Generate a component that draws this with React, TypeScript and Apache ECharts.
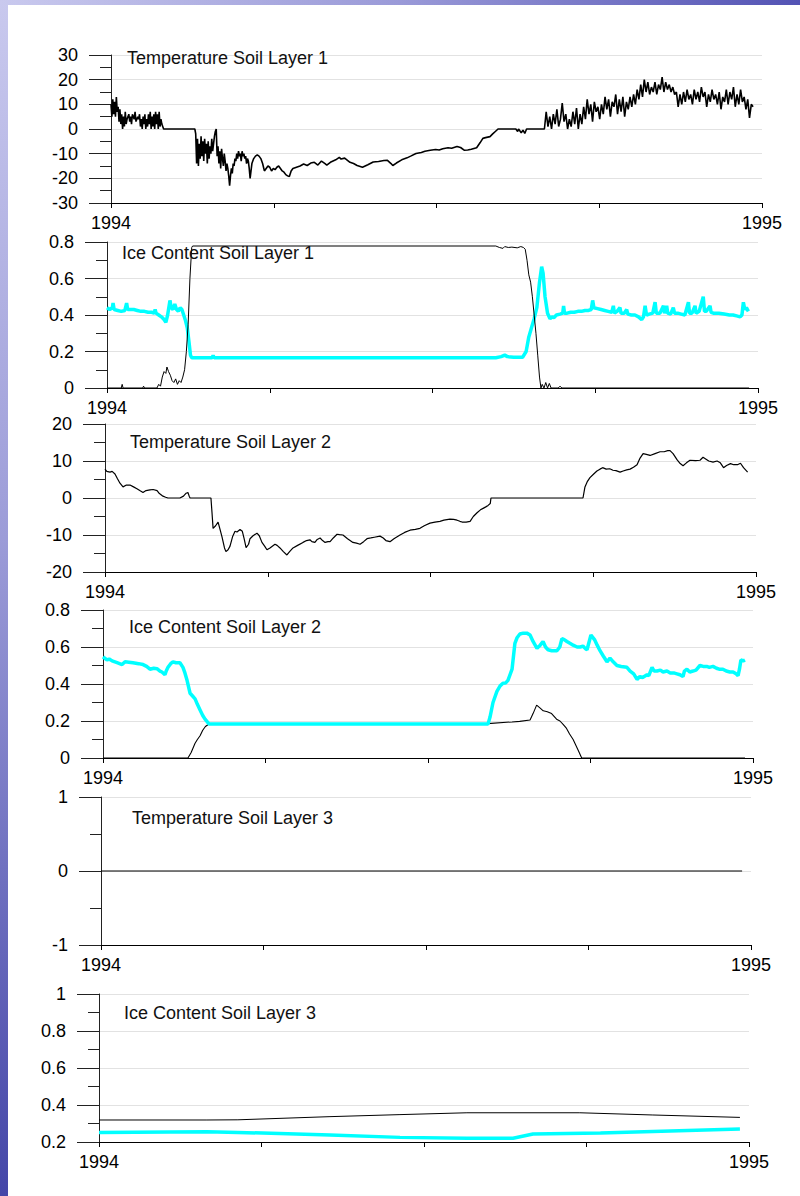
import React, { useEffect, useRef } from "react";
import * as echarts from "echarts";

// x axis: days since the start of 1994 (0 .. 365)
const yearLabels = ["1994", "1995"];
const yearLength = 365;

const panelTitles = [
  "Temperature Soil Layer 1",
  "Ice Content Soil Layer 1",
  "Temperature Soil Layer 2",
  "Ice Content Soil Layer 2",
  "Temperature Soil Layer 3",
  "Ice Content Soil Layer 3",
];

const yMins = [-30, 0, -20, 0, -1, 0.2];
const yMaxs = [30, 0.8, 20, 0.8, 1, 1];
const yIntervals = [10, 0.2, 10, 0.2, 1, 0.2];

// Temperature soil layer 1 [day, degC]
const temp1: [number, number][] = [
  [0, 10], [0.5, 5], [1, 12], [1.5, 6], [2, 11], [2.5, 5], [3, 13], [3.5, 7], [4, 9], [4.5, 3], [5, 8], [5.5, 2],
  [6, 6], [6.5, 0], [7, 5], [7.5, 1], [8, 7], [8.5, 2], [9, 4], [10, 6], [10.5, 3], [11, 5], [11.5, 2], [12, 6],
  [13, 4], [13.5, 7], [14, 3], [15, 5], [15.5, 4], [16, 6], [16.5, 1], [17, 4], [17.5, 0], [18, 5], [18.5, 2],
  [19, 6], [19.5, 0], [20, 4], [20.5, 1], [21, 6], [21.5, 2], [22, 7], [22.5, 0], [23, 5], [23.5, 1], [24, 6],
  [24.5, 0], [25, 7], [25.5, 2], [26, 6], [26.5, 0], [27, 7], [27.5, 1], [28, 4], [28.5, 2], [29, 1], [29.5, 0],
  [47, 0], [47.5, -2], [48, -14], [48.5, -4], [49, -15], [49.5, -6], [50, -12], [50.5, -3], [51, -11], [51.5, -5],
  [52, -13], [52.5, -4], [53, -10], [53.5, -6], [54, -14], [54.5, -5], [55, -12], [55.5, -7], [56, -10], [56.5, -4],
  [57, -9], [57.5, -6], [58, -3], [58.5, -1], [59, 0], [59.5, -11], [60, -7], [60.5, -14], [61, -9], [61.5, -16],
  [62, -8], [62.5, -12], [63, -15], [63.5, -10], [64, -13], [64.5, -17], [65, -14], [65.5, -16], [66, -19],
  [66.5, -23], [67, -19], [67.5, -16], [68, -18], [68.5, -14], [69, -15], [69.5, -12], [70, -13], [70.5, -10],
  [71, -12], [71.5, -9], [72, -11], [72.5, -10], [73, -13], [73.5, -9], [74, -11], [74.5, -10], [75, -12],
  [75.5, -11], [76, -14], [76.5, -12], [77, -13], [77.5, -16], [78, -20], [78.5, -17], [79, -14], [79.5, -13],
  [80, -12], [81, -11], [82, -10.5], [83, -11], [84, -12], [85, -14], [86, -17], [87, -16], [88, -15], [89, -15.5],
  [90, -17], [91, -16], [92, -16.5], [93, -15.5], [94, -15], [95, -16], [96, -17], [97, -17.5], [98, -18.5],
  [99, -19], [100, -19.3], [101, -17], [102, -16], [104, -15.5], [106, -15], [108, -14.2], [110, -14.8],
  [112, -13.8], [114, -13.5], [116, -14.6], [118, -13], [120, -14], [121, -14.6], [123, -13.5], [126, -12.5],
  [128, -11.5], [129, -12.2], [131, -11.8], [134, -13.5], [136, -14], [138, -14.8], [141, -15.5], [144, -14.5],
  [147, -13.4], [150, -13.2], [153, -12.8], [155, -12.7], [157, -14], [158, -14.8], [160, -13.8], [163, -12.5],
  [166, -11.7], [168, -11], [171, -9.9], [174, -9.5], [176, -9], [179, -8.6], [182, -8.3], [184, -8.5], [186, -8],
  [189, -7.6], [191, -7.8], [194, -7.1], [196, -7.5], [198, -8.6], [200, -8.5], [202, -8.2], [205, -7.6],
  [207, -5.5], [208.5, -3.8], [210, -3.5], [212.5, -3.1], [214, -2], [215.5, -1], [217, 0], [227, 0], [228, -1],
  [228.5, 0], [230, -1.5], [231, -0.5], [232, -1.8], [233, 0], [243, 0], [244, 7], [245, 1], [246, 5], [247, 0],
  [248, 6], [249, 2], [250, 8], [251, 1], [252, 4], [253, 10.5], [254, 3], [255, 6], [256, 0], [257, 4], [258, 1],
  [259, 7], [260, 2], [261, 8.5], [262, 0], [263, 6], [264, 2], [265, 9], [266, 4], [267, 12], [268, 6], [269, 10],
  [270, 3], [271, 11], [272, 7], [273, 9], [274, 4], [275, 10], [276, 6], [277, 13], [278, 8], [279, 12], [280, 5],
  [281, 11], [282, 9], [283, 14], [284, 6], [285, 12], [286, 7], [287, 13], [288, 5], [289, 11], [290, 8],
  [291, 13], [292, 9], [293, 14], [294, 10], [295, 16], [296, 12], [297, 18], [298, 13], [299, 20], [300, 15],
  [301, 19], [302, 14], [303, 17], [304, 15], [305, 19], [306, 14], [307, 18], [308, 16], [309, 21], [310, 15],
  [311, 19], [312, 16], [313, 18], [314, 15], [315, 17], [316, 14], [317, 15], [318, 9], [319, 14], [320, 10],
  [321, 15], [322, 11], [323, 16], [324, 12], [325, 14], [326, 10], [327, 16], [328, 12], [329, 15], [330, 11],
  [331, 17], [332, 13], [333, 15], [334, 9], [335, 14], [336, 11], [337, 16], [338, 12], [339, 14], [340, 10],
  [341, 15], [342, 8], [343, 13], [344, 11], [345, 16], [346, 10], [347, 15], [348, 12], [349, 17], [350, 9],
  [351, 14], [352, 10], [353, 16], [354, 11], [355, 13], [356, 8], [357, 12], [358, 4.5], [359, 10], [360, 9],
];

// Ice content soil layer 1 – black curve
const ice1Black: [number, number][] = [
  [0, 0], [8, 0], [8.5, 0.02], [9, 0], [20, 0], [20.5, 0.01], [21, 0], [28, 0], [29, 0.02], [30, 0.01], [31, 0.06],
  [32, 0.09], [33, 0.08], [33.6, 0.115], [34.5, 0.09], [35.5, 0.07], [36.5, 0.04], [37.5, 0.03], [38.5, 0.05],
  [39.5, 0.02], [40.5, 0.04], [41.5, 0.03], [42.5, 0.06], [43.5, 0.1], [44.5, 0.2], [45.5, 0.35], [46.5, 0.6],
  [47.5, 0.77], [48, 0.778], [218, 0.778], [220, 0.77], [222, 0.765], [223, 0.775], [225, 0.77], [227, 0.772],
  [230, 0.768], [232, 0.775], [233.5, 0.77], [234.5, 0.76], [235.5, 0.7], [236.5, 0.62], [237.5, 0.58],
  [238.5, 0.5], [239.5, 0.4], [240.5, 0.3], [241.5, 0.18], [242.5, 0.06], [243.3, 0], [244, 0.02], [245, 0],
  [246, 0.03], [247, 0], [248, 0.025], [249, 0], [253, 0], [254, 0.01], [255, 0], [360, 0],
];

// Ice content soil layer 1 – cyan curve
const ice1Cyan: [number, number][] = [
  [0, 0.44], [1.5, 0.43], [3, 0.44], [3.4, 0.465], [4, 0.43], [6, 0.425], [8, 0.42], [10, 0.425], [11, 0.465],
  [11.6, 0.43], [13, 0.43], [15, 0.43], [17, 0.425], [19, 0.42], [21, 0.42], [23, 0.415], [25, 0.415],
  [26.5, 0.41], [27, 0.43], [27.5, 0.41], [29, 0.4], [30.5, 0.39], [32, 0.375], [33, 0.36], [34, 0.4],
  [35.3, 0.48], [36, 0.44], [37, 0.43], [38, 0.46], [39, 0.43], [40, 0.42], [41, 0.44], [42, 0.43], [43, 0.4],
  [44, 0.37], [45, 0.33], [46, 0.25], [46.8, 0.18], [47.5, 0.166], [59, 0.166], [59.5, 0.178], [60, 0.166],
  [218, 0.166], [221, 0.172], [223, 0.18], [224.5, 0.172], [228, 0.168], [233, 0.168], [235, 0.2], [236.5, 0.28],
  [238, 0.33], [239.5, 0.38], [241, 0.44], [242.5, 0.58], [243.7, 0.665], [244.5, 0.63], [245.6, 0.5],
  [247, 0.41], [248.4, 0.38], [249.5, 0.39], [250.5, 0.385], [252, 0.4], [254, 0.405], [255.5, 0.41],
  [256, 0.45], [256.5, 0.41], [258, 0.41], [260, 0.415], [262, 0.415], [264, 0.42], [266, 0.42], [268, 0.425],
  [270, 0.425], [271.5, 0.43], [272.3, 0.48], [273, 0.44], [275, 0.435], [277, 0.43], [279, 0.425], [281, 0.42],
  [283, 0.415], [283.9, 0.45], [284.5, 0.41], [286, 0.42], [287.6, 0.44], [288.2, 0.41], [290, 0.41],
  [291.4, 0.43], [292, 0.405], [294, 0.4], [296, 0.4], [298, 0.39], [299.8, 0.375], [300.8, 0.39], [301.7, 0.45],
  [302.5, 0.4], [304, 0.405], [306, 0.41], [307.3, 0.47], [308, 0.41], [310, 0.41], [312, 0.45], [312.6, 0.41],
  [313.8, 0.45], [314.4, 0.41], [316, 0.405], [317.5, 0.44], [318.2, 0.41], [320, 0.41], [322, 0.405],
  [324, 0.4], [326, 0.47], [326.6, 0.41], [328, 0.41], [329.7, 0.45], [330.3, 0.41], [332, 0.42], [334.3, 0.5],
  [335, 0.42], [336, 0.42], [338.1, 0.45], [338.7, 0.415], [340, 0.41], [343, 0.41], [346, 0.405], [349, 0.4],
  [351, 0.4], [353, 0.395], [355, 0.39], [356, 0.4], [356.8, 0.47], [357.6, 0.43], [358.5, 0.44], [359.6, 0.42],
];

// Temperature soil layer 2 [day, degC]
const temp2: [number, number][] = [
  [0, 7.8], [1, 7.2], [2.8, 7], [4, 7.2], [5.6, 6.5], [7, 5.2], [8.4, 4], [10.1, 3], [12, 3.5], [14, 3.5],
  [16, 3], [17.9, 2.5], [19.5, 2], [21.3, 1.5], [23, 2], [25.2, 2.2], [27, 2.3], [29.2, 2], [30.5, 1.2],
  [32.5, 0.5], [34, 0.2], [35.3, 0], [42, 0], [44, 0.5], [45.5, 1.3], [46.5, 1.5], [47.2, 0.5], [47.7, 0],
  [59.4, 0], [60, -4], [60.6, -8.2], [62, -7.5], [63.4, -6.5], [64.5, -8.5], [65.6, -10.5], [67, -13.5],
  [67.8, -14.5], [69, -14], [70.1, -13], [71.5, -10.5], [72.9, -9], [74, -9.2], [75.7, -8.5], [77, -9],
  [78, -11], [79.1, -13.4], [80.5, -12.5], [81.3, -11], [83, -10.2], [85.2, -9.5], [86.5, -10.2], [88, -12],
  [89.5, -13], [90.8, -14], [92.5, -13.5], [95.3, -12.5], [96.5, -12.8], [98.1, -13.5], [100, -14.5],
  [102, -15.4], [103.5, -14.5], [105.4, -13.5], [108, -12.8], [111, -12], [113, -11.5], [114.9, -11.3],
  [116, -11.8], [117.7, -12], [119, -11.2], [120.6, -10.8], [122, -11.5], [123.4, -12], [125, -11.8],
  [126.2, -11.8], [128, -10.8], [130.1, -9.8], [131.5, -9.9], [133.4, -10], [136, -11], [139, -12], [141, -12.2],
  [143, -12.5], [145, -11.8], [146.9, -11], [149, -10.8], [151, -10.6], [154.2, -10.3], [156, -10.8],
  [157.5, -11.5], [159.8, -11.8], [162, -11], [165.4, -10], [168, -9.3], [171, -8.7], [174, -8.5],
  [176.6, -8.2], [179, -7.5], [182.2, -6.8], [185, -6.5], [187.8, -6.3], [190, -6], [193.4, -5.7],
  [195.5, -5.8], [197.4, -6], [199, -6.3], [200.2, -6.5], [202.5, -6.5], [204.7, -6.3], [206.5, -5],
  [208.6, -4], [210.5, -3.2], [212, -2.8], [213.5, -2.4], [214.8, -2], [216, -1.5], [216.4, 0], [268, 0],
  [269.1, 3], [270.5, 4.5], [271.9, 5.5], [274, 6.5], [275.8, 7.3], [277.5, 7.8], [279, 8.2], [281, 7.8],
  [283, 7.9], [284.8, 7.5], [286.5, 7.4], [288.8, 7], [290.5, 7.3], [292.5, 7.6], [294.4, 7.8], [296.3, 8.3],
  [298.3, 9], [300, 10.8], [301.7, 12], [303.5, 11.8], [305.6, 11.5], [308.4, 12], [311.2, 12.5], [313.5, 12.5],
  [315.5, 12.8], [316.8, 12.8], [318.5, 12], [320.8, 10.3], [322.5, 9.3], [324.1, 8.7], [326, 9.5], [328, 10.2],
  [331, 10.1], [333.6, 10.2], [335.3, 11], [337, 10.5], [338.5, 10], [340.9, 9.7], [343.2, 10], [345, 9.5],
  [346.8, 8.2], [348.5, 8.8], [350.7, 9.3], [352.5, 9], [354.6, 9], [356.3, 9.4], [358, 8.2], [360.3, 7],
];

// Ice content soil layer 2 – cyan curve
const ice2Cyan: [number, number][] = [
  [0, 0.547], [2.2, 0.53], [3.5, 0.535], [5.1, 0.525], [7.9, 0.515], [10.7, 0.505], [12.4, 0.52], [14.5, 0.518],
  [16.8, 0.515], [20, 0.51], [22.5, 0.505], [24.5, 0.495], [26.4, 0.48], [28.5, 0.485], [30.3, 0.483],
  [32, 0.47], [33.1, 0.465], [34.8, 0.45], [35.5, 0.47], [36.5, 0.49], [38, 0.51], [39.3, 0.52], [41, 0.515],
  [43.2, 0.515], [44.9, 0.49], [46, 0.46], [47.2, 0.42], [48.9, 0.35], [50.3, 0.335], [51.7, 0.32], [53, 0.29],
  [54.5, 0.26], [56, 0.23], [57.3, 0.21], [59.5, 0.184], [216.2, 0.184], [217.3, 0.22], [219, 0.3],
  [221.2, 0.36], [223, 0.39], [224.6, 0.404], [226, 0.405], [227.4, 0.42], [229.7, 0.48], [231.3, 0.62],
  [232.5, 0.65], [234.1, 0.67], [236, 0.675], [238, 0.675], [239.8, 0.665], [241.5, 0.63], [243.7, 0.593],
  [245.5, 0.61], [247.1, 0.63], [248.5, 0.6], [249.9, 0.585], [252, 0.58], [254.9, 0.58], [256.5, 0.6],
  [257.7, 0.645], [259, 0.64], [260.5, 0.63], [262.2, 0.62], [264, 0.61], [266.2, 0.6], [268, 0.6],
  [269.5, 0.605], [271, 0.59], [271.8, 0.585], [274, 0.665], [276, 0.64], [277.5, 0.61], [279.1, 0.58],
  [281, 0.55], [283, 0.52], [284.7, 0.54], [286.5, 0.52], [288.6, 0.5], [291, 0.495], [294.2, 0.49],
  [296, 0.47], [298, 0.455], [299.9, 0.425], [301.5, 0.44], [303, 0.435], [305.5, 0.45], [306.5, 0.445],
  [308.3, 0.49], [309.5, 0.47], [311.1, 0.47], [313, 0.475], [314.5, 0.465], [316.7, 0.47], [318.5, 0.46],
  [320.5, 0.46], [322.3, 0.455], [324, 0.45], [325.7, 0.44], [326.5, 0.47], [327.9, 0.48], [329.5, 0.465],
  [331.3, 0.47], [333, 0.475], [335.2, 0.5], [337, 0.495], [339, 0.495], [340.5, 0.49], [342.5, 0.495],
  [344.5, 0.485], [346, 0.48], [348.1, 0.48], [350, 0.47], [352, 0.465], [353.8, 0.465], [355.5, 0.455],
  [356.6, 0.445], [357.4, 0.48], [358.2, 0.53], [359.5, 0.525], [360.5, 0.53],
];

// Ice content soil layer 2 – black curve
const ice2Black: [number, number][] = [
  [0, 0], [47.7, 0], [49.5, 0.03], [51.7, 0.08], [53, 0.1], [54.5, 0.12], [56, 0.15], [57.5, 0.17],
  [59.5, 0.184], [216, 0.186], [229.7, 0.195], [234, 0.198], [239.8, 0.205], [241.5, 0.24], [243.5, 0.286],
  [245.5, 0.27], [247.2, 0.255], [249.5, 0.25], [251.9, 0.24], [254.7, 0.21], [256.6, 0.2], [258.5, 0.18],
  [260.3, 0.16], [262, 0.13], [264, 0.1], [266.9, 0.04], [268.8, 0], [360.5, 0],
];

// Temperature soil layer 3
const temp3: [number, number][] = [[0, 0], [360, 0]];

// Ice content soil layer 3
const ice3Black: [number, number][] = [
  [0, 0.319], [60.6, 0.319], [78, 0.32], [129.7, 0.337], [169, 0.348], [206.6, 0.358], [270, 0.358],
  [311, 0.346], [359.9, 0.333],
];
const ice3Cyan: [number, number][] = [
  [0, 0.252], [60.6, 0.256], [78, 0.252], [129.7, 0.238], [169, 0.225], [206.6, 0.22], [232.5, 0.22],
  [243.7, 0.243], [281.6, 0.248], [359.9, 0.27],
];

const FONT = "'Liberation Sans', Arial, Helvetica, sans-serif";
const CYAN = "#00ffff";

export default function App() {
  const ref = useRef<HTMLDivElement>(null);

  useEffect(() => {
    if (!ref.current) return;
    const chart = echarts.init(ref.current, null, { renderer: "svg" });

    const layout = [
      { left: 111, top: 55, width: 651, height: 148 },
      { left: 107, top: 242, width: 651, height: 146 },
      { left: 105, top: 424, width: 651, height: 148 },
      { left: 103, top: 610, width: 650, height: 148 },
      { left: 101, top: 797, width: 650, height: 148 },
      { left: 99, top: 994, width: 650, height: 148 },
    ];
    const titlePos = [
      [127, 58],
      [122, 253],
      [130, 442],
      [129, 627],
      [132, 818],
      [124, 1013],
    ];

    const grid = layout.map((l) => ({ ...l, containLabel: false }));

    const xAxis = layout.map((_, i) => ({
      type: "value",
      gridIndex: i,
      min: 0,
      max: yearLength,
      interval: yearLength / 4,
      axisLine: { show: true, onZero: false, lineStyle: { color: "#000", width: 1 } },
      axisTick: { show: true, length: 5, lineStyle: { color: "#000" } },
      splitLine: { show: false },
      axisLabel: {
        show: true,
        margin: 11,
        fontSize: 18,
        fontFamily: FONT,
        color: "#000",
        showMinLabel: true,
        showMaxLabel: true,
        formatter: (v: number) =>
          Math.abs(v) < 1e-6 ? yearLabels[0] : Math.abs(v - yearLength) < 1e-6 ? yearLabels[1] : "",
      },
    }));

    const yAxis = layout.map((_, i) => ({
      type: "value",
      gridIndex: i,
      min: yMins[i],
      max: yMaxs[i],
      interval: yIntervals[i],
      axisLine: { show: true, onZero: false, lineStyle: { color: "#222", width: 1 } },
      axisTick: { show: true, length: 22, lineStyle: { color: "#222" } },
      minorTick: { show: true, splitNumber: 2, length: 11, lineStyle: { color: "#222" } },
      splitLine: { show: true, lineStyle: { color: "#e2e2e2", width: 1 } },
      minorSplitLine: { show: false },
      axisLabel: { margin: 33, fontSize: 18, fontFamily: FONT, color: "#000" },
    }));

    const line = (idx: number, data: [number, number][], color: string, width: number) => ({
      type: "line",
      xAxisIndex: idx,
      yAxisIndex: idx,
      data,
      showSymbol: false,
      symbol: "none",
      silent: true,
      lineStyle: { color, width },
    });

    const series = [
      line(0, temp1, "#000", 1.6),
      line(1, ice1Cyan, CYAN, 3.5),
      line(1, ice1Black, "#000", 1),
      line(2, temp2, "#000", 1.2),
      line(3, ice2Black, "#000", 1.1),
      line(3, ice2Cyan, CYAN, 3.5),
      line(4, temp3, "#000", 1.1),
      line(5, ice3Black, "#000", 1),
      line(5, ice3Cyan, CYAN, 3.5),
    ];

    const graphic: any[] = [
      {
        type: "rect",
        shape: { x: 0, y: 0, width: 8, height: 1196 },
        style: {
          fill: {
            type: "linear",
            x: 0,
            y: 0,
            x2: 0,
            y2: 1,
            colorStops: [
              { offset: 0, color: "#c9c9ee" },
              { offset: 0.45, color: "#9c9cd8" },
              { offset: 1, color: "#4446a8" },
            ],
          },
        },
        silent: true,
      },
      {
        type: "rect",
        shape: { x: 0, y: 0, width: 800, height: 5 },
        style: {
          fill: {
            type: "linear",
            x: 0,
            y: 0,
            x2: 1,
            y2: 0,
            colorStops: [
              { offset: 0, color: "#c9c9ee" },
              { offset: 0.5, color: "#9a9ad8" },
              { offset: 1, color: "#5353b4" },
            ],
          },
        },
        silent: true,
      },
      ...panelTitles.map((t, i) => ({
        type: "text",
        x: titlePos[i][0],
        y: titlePos[i][1],
        silent: true,
        style: {
          text: t,
          fill: "#111",
          fontSize: 18,
          fontFamily: FONT,
          textAlign: "left",
          textVerticalAlign: "middle",
        },
        z: 10,
      })),
    ];

    chart.setOption({
      animation: false,
      backgroundColor: "#ffffff",
      grid,
      xAxis,
      yAxis,
      series,
      graphic,
    } as any);

    return () => chart.dispose();
  }, []);

  return (
    <div
      ref={ref}
      style={{ position: "absolute", left: 0, top: 0, width: 800, height: 1196 }}
    />
  );
}
